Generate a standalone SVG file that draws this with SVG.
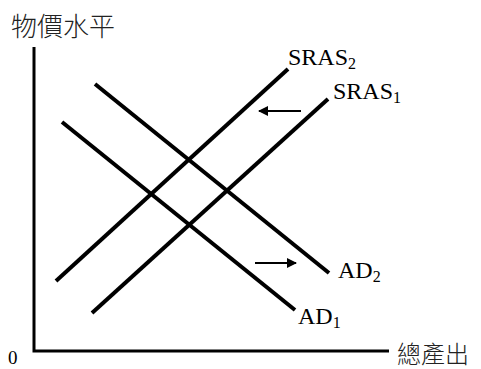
<svg xmlns="http://www.w3.org/2000/svg" width="481" height="369" viewBox="0 0 481 369">
<style>
.ax{stroke:#000;stroke-width:3;fill:none}
.cv{stroke:#000;stroke-width:4;fill:none;stroke-linecap:butt}
.ar{stroke:#000;stroke-width:2;fill:none}
.lb{font-family:"Liberation Serif","Times New Roman",serif;font-size:24px;fill:#000}
.sb{font-size:16px}
.cj{font-family:"Noto Sans CJK TC","Noto Sans CJK SC",sans-serif;font-weight:300;fill:#222}
</style>
<defs>
<marker id="ah" viewBox="0 0 10 10" refX="9" refY="5" markerWidth="5" markerHeight="5" orient="auto" markerUnits="strokeWidth">
<path d="M0,0 L10,5 L0,10 z" fill="#000"/>
</marker>
</defs>
<g id="axes">
<path class="ax" d="M34,47 V351 H389"/>
<text class="cj" x="11" y="36" style="font-size:26px">物價水平</text>
<text class="cj" x="397" y="363" style="font-size:24px">總產出</text>
<text class="lb" x="8" y="364" style="font-size:19px">0</text>
</g>
<g id="sras2">
<line class="cv" x1="56" y1="281" x2="288" y2="69"/>
<text class="lb" x="288" y="65">SRAS<tspan class="sb" dy="4">2</tspan></text>
</g>
<g id="sras1">
<line class="cv" x1="92" y1="313" x2="328" y2="99"/>
<text class="lb" x="333" y="99">SRAS<tspan class="sb" dy="4">1</tspan></text>
</g>
<g id="ad2">
<line class="cv" x1="95" y1="84" x2="329" y2="273"/>
<text class="lb" x="338" y="278">AD<tspan class="sb" dy="4">2</tspan></text>
</g>
<g id="ad1">
<line class="cv" x1="62" y1="122" x2="295" y2="310"/>
<text class="lb" x="298" y="324">AD<tspan class="sb" dy="4">1</tspan></text>
</g>
<g id="connectors">
<line class="ar" x1="301" y1="111" x2="259" y2="111" marker-end="url(#ah)"/>
<line class="ar" x1="255" y1="263" x2="296" y2="263" marker-end="url(#ah)"/>
</g>
</svg>
